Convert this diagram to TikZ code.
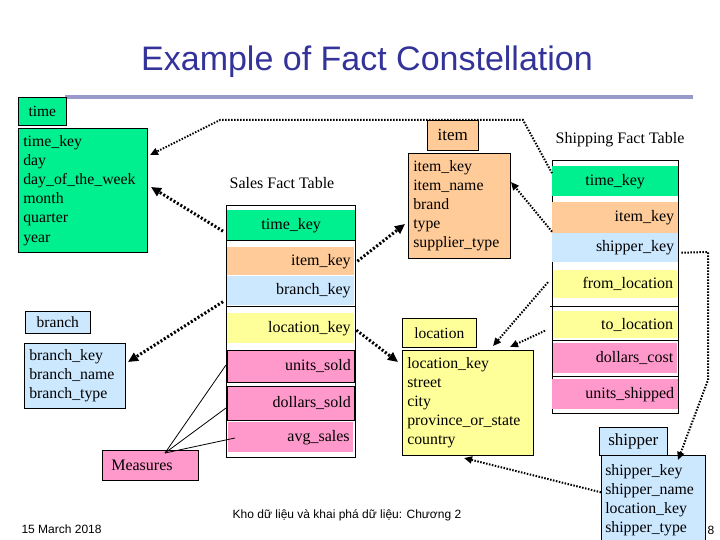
\documentclass[tikz,border=0pt]{standalone}
\usepackage{fontspec}
\setmainfont{Liberation Serif}
\newfontfamily\ttl{Liberation Sans}
\usetikzlibrary{arrows.meta}
\definecolor{cgreen}{RGB}{0,240,144}
\definecolor{cpeach}{RGB}{255,204,153}
\definecolor{cblue}{RGB}{204,232,255}
\definecolor{cyel}{RGB}{255,255,153}
\definecolor{cpink}{RGB}{255,153,204}
\definecolor{ctitle}{RGB}{51,51,153}
\definecolor{crule}{RGB}{153,153,204}
\tikzset{
 lab/.style={draw,line width=0.6pt,anchor=north west,inner sep=0pt,font=\fontsize{15.5}{19}\selectfont},
 ent/.style={draw,line width=0.6pt,anchor=north west,inner sep=5pt,align=left,font=\fontsize{15.8}{19.2}\selectfont},
 row/.style={anchor=north west,inner sep=0pt,font=\fontsize{16}{19}\selectfont},
 conn/.style={line width=3pt,dash pattern=on 2pt off 2pt,-{Triangle[length=10pt,width=9pt]}},
 thinconn/.style={line width=2pt,dash pattern=on 1.5pt off 1.5pt,-{Triangle[length=8pt,width=7pt]}},
 meas/.style={line width=0.8pt}
}
\begin{document}
\begin{tikzpicture}[x=1pt,y=-1pt]
\useasboundingbox (0,0) rectangle (720,540);
% title
\node[text=ctitle,font=\ttl\fontsize{34}{40}\selectfont] (title) at (367,62) {Example of Fact Constellation};
\fill[crule] (65,95.5) rectangle (693,99);
% time
\node[lab,fill=cgreen,minimum width=48,minimum height=28] (timel) at (18,97) {time};
\node[ent,fill=cgreen,minimum width=129,minimum height=124,text width=119] (time) at (18,128)
 {time\_key\\day\\day\_of\_the\_week\\month\\quarter\\year};
% branch
\node[lab,fill=cblue,minimum width=65,minimum height=22] (branchl) at (25,311) {branch};
\node[ent,fill=cblue,minimum width=101,minimum height=65,text width=91,inner sep=5pt] (branch) at (24,343)
 {branch\_key\\branch\_name\\branch\_type};
% item
\node[lab,fill=cpeach,minimum width=51,minimum height=30,font=\fontsize{17}{19}\selectfont] (iteml) at (427,120) {item};
\node[ent,fill=cpeach,minimum width=102,minimum height=105,text width=92] (item) at (408,153)
 {item\_key\\item\_name\\brand\\type\\supplier\_type};
% location
\node[lab,fill=cyel,minimum width=74,minimum height=29] (locl) at (402,318) {location};
\node[ent,fill=cyel,minimum width=131,minimum height=105,text width=121] (loc) at (402,350)
 {location\_key\\street\\city\\province\_or\_state\\country};
% shipper
\node[lab,fill=cblue,minimum width=68,minimum height=28,font=\fontsize{17}{19}\selectfont] (shipl) at (599,427) {shipper};
\node[ent,fill=cblue,minimum width=104,minimum height=90,text width=96,inner sep=4pt] (ship) at (601,455)
 {shipper\_key\\shipper\_name\\location\_key\\shipper\_type};
% Measures
\node[lab,fill=cpink,minimum width=96,minimum height=30,text width=90,align=left,font=\fontsize{16}{19}\selectfont] (meas) at (102,450) {\hspace*{6pt}Measures};
% Sales fact table
\node[font=\fontsize{16}{19}\selectfont] (salest) at (282,183) {Sales Fact Table};
\draw[line width=0.6pt,fill=white] (226,205) rectangle (355,457);
\node[row,fill=cgreen,minimum width=128,minimum height=30,text width=128,align=center] (s1) at (227,210) {time\_key};
\draw[line width=1pt] (227,240)--(355,240);
\node[row,fill=cpeach,minimum width=127,minimum height=28,text width=120,align=right] (s2) at (227,247) {item\_key};
\node[row,fill=cblue,minimum width=127,minimum height=29,text width=120,align=right] (s3) at (227,276) {branch\_key};
\draw[line width=1pt] (227,306)--(355,306);
\node[row,fill=cyel,minimum width=127,minimum height=30,text width=120,align=right] (s4) at (227,313) {location\_key};
\node[row,draw,line width=0.8pt,fill=cpink,minimum width=127,minimum height=32,text width=120,align=right] (s5) at (227,350) {units\_sold};
\node[row,draw,line width=0.8pt,fill=cpink,minimum width=127,minimum height=34,text width=120,align=right] (s6) at (227,386) {dollars\_sold};
\node[row,fill=cpink,minimum width=125,minimum height=30,text width=118,align=right] (s7) at (228,422) {avg\_sales};
% Shipping fact table
\node[font=\fontsize{16}{19}\selectfont] (shipt) at (620,140) {Shipping Fact Table};
\draw[line width=0.6pt,fill=white] (552,160) rectangle (678,413);
\node[row,fill=cgreen,minimum width=126,minimum height=30,text width=126,align=center] (h1) at (552,166) {time\_key};
\node[row,fill=cpeach,minimum width=126,minimum height=31,text width=118,align=right] (h2) at (552,202) {item\_key};
\node[row,fill=cblue,minimum width=126,minimum height=29,text width=118,align=right] (h3) at (552,233) {shipper\_key};
\node[row,fill=cyel,minimum width=124,minimum height=28,text width=116,align=right] (h4) at (553,270) {from\_location};
\draw[line width=1pt] (550,306)--(678,306);
\node[row,fill=cyel,minimum width=124,minimum height=27,text width=116,align=right] (h5) at (553,311) {to\_location};
\draw[line width=1pt] (552,340)--(678,340);
\node[row,fill=cpink,minimum width=124,minimum height=30,text width=116,align=right] (h6) at (553,343) {dollars\_cost};
\draw[line width=1pt] (552,376)--(678,376);
\node[row,fill=cpink,minimum width=126,minimum height=30,text width=118,align=right] (h7) at (552,379) {units\_shipped};
% footer
\node[font=\ttl\fontsize{12}{14}\selectfont,anchor=west] (date) at (18,529) {15 March 2018};
\node[font=\ttl\fontsize{12}{14}\selectfont] (foot) at (347,515) {Kho dữ liệu và khai phá dữ liệu: Chương 2};
\node[font=\ttl\fontsize{12}{14}\selectfont] (pg) at (711,530) {8};
% connectors
\coordinate (c1) at (523,120); \coordinate (c2) at (220,120);
\draw[thinconn] (h1.west) ++(0,-8) -- (c1) -- (c2) -- (150,155);
\draw[conn] (s1.west) ++(-4,6) -- (151,187);
\draw[conn] (s2.east) ++(3,0) -- (405,224);
\draw[conn] (s3.west) ++(-4,11) -- (128,362);
\draw[conn] (s4.east) ++(2,2) -- (398,362);
\draw[thinconn] (h4.west) ++(-5,-2) -- (493,346);
\draw[thinconn] (h5.west) ++(-8,6) -- (510,347);
\draw[thinconn] (h2.west) ++(0,14) -- (511,182);
\coordinate (d1) at (708,252); \coordinate (d2) at (708,380);
\draw[thinconn] (h3.east) ++(3,5) -- (d1) -- (d2) -- (678,460);
\draw[thinconn] (ship.west) ++(0,-8) -- (464,458);
\draw[meas] (165,453) -- (226,365);
\draw[meas] (165,453) -- (226,408);
\draw[meas] (165,453) -- (235,438);
\end{tikzpicture}
\end{document}
